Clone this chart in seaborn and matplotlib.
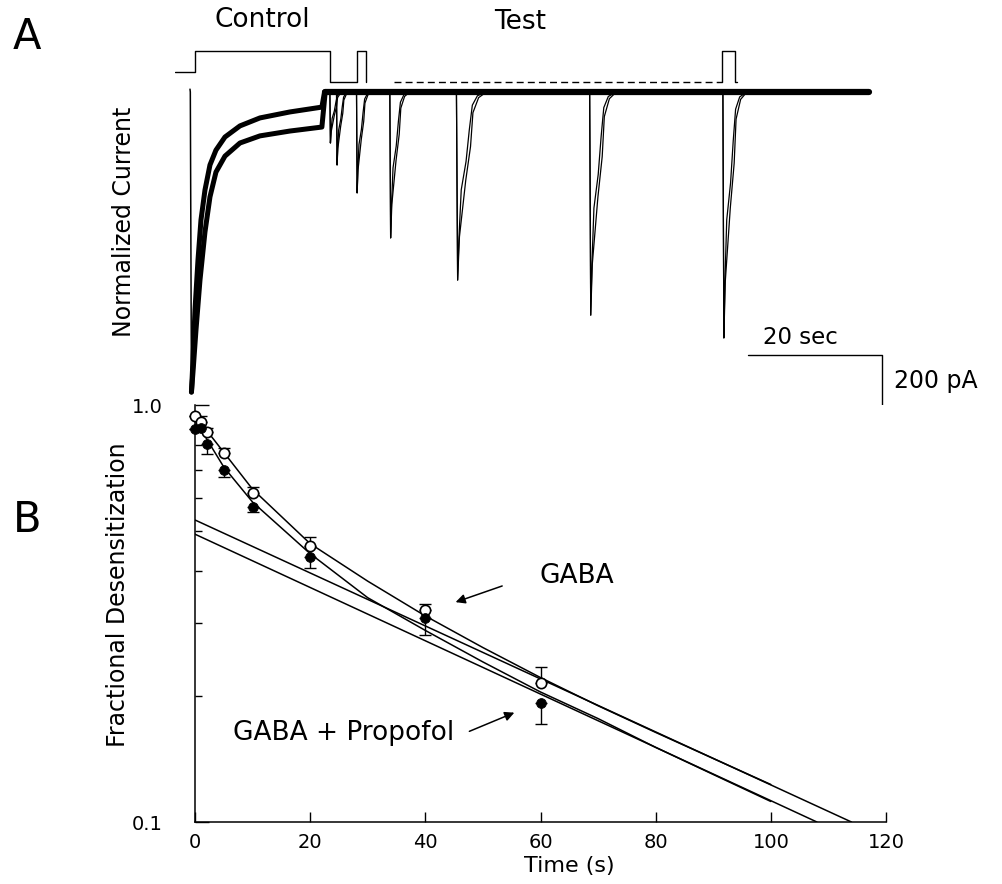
import numpy as np
import pandas as pd
import seaborn as sns
import matplotlib.pyplot as plt

sns.set_theme(style="white")
plt.rcParams['font.family'] = ['DejaVu Sans']
plt.rcParams['text.color'] = 'black'

W, H = 1002, 884

# ---------------- panel A: current traces (s from control onset, pA) ----------------
ctrl_t_up = [0.22, 0.45, 0.75, 1.2, 1.65, 2.25, 3.0, 3.9, 5.25, 7.5, 10.5, 15.0, 19.8, 20.2]
ctrl_i_up = [-1053, -940, -765, -590, -449, -344, -256, -204, -158, -119, -91, -70, -53, 0]
ctrl_t_lo = [0.22, 0.45, 0.9, 1.5, 2.25, 3.0, 3.9, 5.25, 7.5, 10.5, 15.0, 19.8, 20.3]
ctrl_i_lo = [-1053, -983, -835, -660, -491, -368, -281, -225, -179, -154, -137, -123, 0]
onset_t = [0, 0.05, 0.22]
onset_i = [10, 0, -1053]
base_t = [20.2, 102.0]
base_i = [0, 0]

control_end = 20.0
test_delay = [1, 2, 5, 10, 20, 40, 60]
test_peak = [-179, -256, -354, -512, -660, -783, -863]
test_recov = [2.1, 2.0, 2.3, 3.0, 4.5, 4.0, 3.6]
# recovery shape of the test responses
recov_phase_a = [0, 0.04, 0.08, 0.16, 0.32, 0.43, 0.53, 0.7, 1.0]
recov_frac_a = [0, 1.0, 0.79, 0.52, 0.37, 0.2, 0.07, 0.02, 0]
recov_phase_b = [0, 0.04, 0.1, 0.31, 0.47, 0.55, 0.74, 1.0]
recov_frac_b = [0, 1.0, 0.77, 0.47, 0.29, 0.11, 0.03, 0]

# application protocol (0 = low, 1 = high)
proto_t = [-2.25, 0.75, 0.75, 21.0, 21.0, 25.0, 25.0, 26.4, 26.4]
proto_lvl = [0.31, 0.31, 1, 1, 0, 0, 1, 1, 0]
proto_dash_t = [30.6, 79.3]
proto_dash_lvl = [0, 0]
proto_end_t = [79.3, 79.9, 79.9, 81.8, 81.8, 82.1]
proto_end_lvl = [0, 0, 1, 1, 0, 0]

# ---------------- panel B: fractional desensitization ----------------
times = [0, 1, 2, 5, 10, 20, 40, 60]
gaba = [0.94, 0.912, 0.863, 0.768, 0.614, 0.459, 0.322, 0.215]
gaba_err = [0, 0.03, 0.02, 0.02, 0.021, 0.023, 0.011, 0.02]
prop = [0.876, 0.881, 0.806, 0.698, 0.569, 0.433, 0.308, 0.193]
prop_err = [0, 0, 0.045, 0.027, 0.016, 0.027, 0.027, 0.021]

fit_t = [0, 1, 2, 5, 10, 20, 30, 40, 50, 60, 70, 80, 90, 100]
gaba_fit = [0.94, 0.91, 0.87, 0.77, 0.628, 0.465, 0.378, 0.312, 0.262, 0.222, 0.190, 0.164, 0.142, 0.123]
prop_fit = [0.90, 0.875, 0.83, 0.71, 0.585, 0.44, 0.345, 0.288, 0.242, 0.205, 0.177, 0.151, 0.13, 0.112]
slow_gaba_t = [0, 114]
slow_gaba = [0.53, 0.1]
slow_prop_t = [0, 108]
slow_prop = [0.49, 0.1]

fig = plt.figure(figsize=(W / 100, H / 100), dpi=100)


def px_axes(x0, y0, x1, y1):
    return fig.add_axes([x0 / W, 1 - y1 / H, (x1 - x0) / W, (y1 - y0) / H])


def trace(ax, t, y, lw):
    sns.lineplot(x=t, y=y, ax=ax, sort=False, estimator=None, color="black",
                 linewidth=lw, solid_joinstyle="round")


# ---- panel A
axA = px_axes(175, 80, 1000, 420)
axA.set_xlim(-2.25, 121.6)
axA.set_ylim(-1151, 42.1)
axA.axis("off")

trace(axA, onset_t, onset_i, 1.1)
trace(axA, ctrl_t_up, ctrl_i_up, 3.6)
trace(axA, ctrl_t_lo, ctrl_i_lo, 3.6)
trace(axA, base_t, base_i, 4.5)

for d, pk, rc in zip(test_delay, test_peak, test_recov):
    on = control_end + d
    ta = [on + p * rc for p in recov_phase_a]
    tb = [on + p * rc for p in recov_phase_b]
    trace(axA, ta, [pk * f for f in recov_frac_a], 0.9)
    trace(axA, tb, [pk * f for f in recov_frac_b], 0.9)

# scale bars
axA.plot([83.8, 103.9, 103.9], [-923, -923, -1123], color="black", lw=1.0, clip_on=False)

# ---- protocol
axP = px_axes(175, 40, 1000, 90)
axP.set_xlim(-2.25, 121.6)
axP.set_ylim(-0.27, 1.36)
axP.axis("off")
trace(axP, proto_t, proto_lvl, 1.0)
axP.plot(proto_dash_t, proto_dash_lvl, color="black", lw=1.0, ls=(0, (5, 3)))
trace(axP, proto_end_t, proto_end_lvl, 1.0)

# ---- panel B
axB = px_axes(195, 405, 886, 822)
sns.lineplot(x=fit_t, y=gaba_fit, ax=axB, color="black", lw=1.1, estimator=None)
sns.lineplot(x=fit_t, y=prop_fit, ax=axB, color="black", lw=1.1, estimator=None)
sns.lineplot(x=slow_gaba_t, y=slow_gaba, ax=axB, color="black", lw=1.1, estimator=None)
sns.lineplot(x=slow_prop_t, y=slow_prop, ax=axB, color="black", lw=1.1, estimator=None)

axB.errorbar(times, gaba, yerr=[np.zeros(len(gaba_err)), gaba_err], fmt="none",
             ecolor="black", elinewidth=1, capsize=4, clip_on=False)
axB.errorbar(times, prop, yerr=[prop_err, np.zeros(len(prop_err))], fmt="none",
             ecolor="black", elinewidth=1, capsize=4, clip_on=False)
sns.scatterplot(x=times, y=gaba, ax=axB, marker="o", s=55, facecolor="white",
                edgecolor="black", linewidth=1.2, zorder=5, clip_on=False)
sns.scatterplot(x=times, y=prop, ax=axB, marker="o", s=50, color="black",
                edgecolor="black", zorder=6, clip_on=False)

axB.set_yscale("log")
axB.set_ylim(0.1, 1.0)
axB.set_xlim(0, 120)
axB.set_xticks([0, 20, 40, 60, 80, 100, 120])
axB.set_yticks([0.1, 1.0])
axB.set_yticklabels(["0.1", "1.0"])
axB.set_yticks([0.2, 0.3, 0.4, 0.5, 0.6, 0.7, 0.8, 0.9], minor=True)
axB.yaxis.set_minor_formatter(plt.NullFormatter())
axB.tick_params(axis="x", which="major", direction="in", length=7, width=1,
                labelsize=14, pad=8, colors="black", bottom=True)
axB.tick_params(axis="y", which="major", direction="in", length=10, width=1,
                labelsize=14, pad=23, colors="black", left=True)
axB.tick_params(axis="y", which="minor", direction="in", length=5, width=1,
                colors="black", left=True)
for s in ["top", "right"]:
    axB.spines[s].set_visible(False)
for s in ["left", "bottom"]:
    axB.spines[s].set_color("black")
    axB.spines[s].set_linewidth(1.1)
axB.set_xlabel("")
axB.set_ylabel("")

axB.annotate("", xy=(44.8, 0.335), xytext=(53.8, 0.37),
             arrowprops=dict(arrowstyle="-|>", color="black", lw=1.1, mutation_scale=14))
axB.annotate("", xy=(55.9, 0.184), xytext=(47.2, 0.164),
             arrowprops=dict(arrowstyle="-|>", color="black", lw=1.1, mutation_scale=14))

# ---- text
fig.text(27 / W, 1 - 37 / H, "A", fontsize=30, ha="center", va="center")
fig.text(27 / W, 1 - 520 / H, "B", fontsize=30, ha="center", va="center")
fig.text(262 / W, 1 - 20 / H, "Control", fontsize=19, ha="center", va="center")
fig.text(520 / W, 1 - 22 / H, "Test", fontsize=19, ha="center", va="center")
fig.text(124 / W, 1 - 222 / H, "Normalized Current", fontsize=17, rotation=90,
         ha="center", va="center")
fig.text(118 / W, 1 - 595 / H, "Fractional Desensitization", fontsize=17, rotation=90,
         ha="center", va="center")
fig.text(569 / W, 1 - 866 / H, "Time (s)", fontsize=16, ha="center", va="center")
fig.text(800 / W, 1 - 338 / H, "20 sec", fontsize=16.5, ha="center", va="center")
fig.text(936 / W, 1 - 381 / H, "200 pA", fontsize=17, ha="center", va="center")
fig.text(577 / W, 1 - 576 / H, "GABA", fontsize=19, ha="center", va="center")
fig.text(344 / W, 1 - 733 / H, "GABA + Propofol", fontsize=19, ha="center", va="center")

fig.savefig("out.png", dpi=100)
